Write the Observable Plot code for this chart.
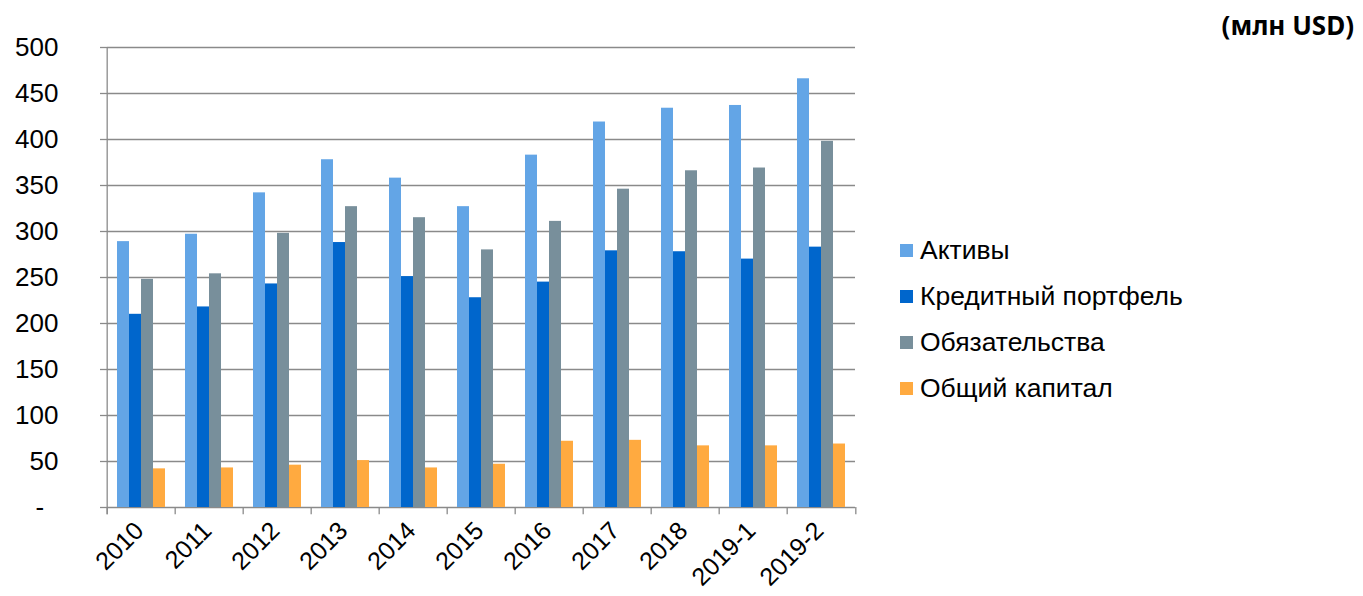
<!DOCTYPE html>
<html>
<head>
<meta charset="utf-8">
<script src="https://cdn.jsdelivr.net/npm/d3@7"></script>
<script src="https://cdn.jsdelivr.net/npm/@observablehq/plot@0.6"></script>
<style>
  html, body { margin: 0; padding: 0; background: #fff; }
  #wrap { position: relative; width: 1363px; height: 596px; overflow: hidden; font-family: "Liberation Sans", Arial, sans-serif; }
  #chart { position: absolute; left: 0; top: 0; }
  #title { position: absolute; right: 9px; top: 12px; font-family: "Noto Sans", sans-serif; font-weight: bold; font-size: 26px; line-height: 1; color: #000; }
  #legend { position: absolute; left: 900px; top: 228px; }
  .row { display: flex; align-items: center; height: 45.8px; font-size: 26.5px; color: #000; }
  .sw { width: 13px; height: 13px; margin-right: 7px; }
</style>
</head>
<body>
<div id="wrap">
  <div id="chart"></div>
  <div id="title">(млн USD)</div>
  <div id="legend"></div>
</div>
<script>
const years = ["2010","2011","2012","2013","2014","2015","2016","2017","2018","2019-1","2019-2"];
const series = ["Активы","Кредитный портфель","Обязательства","Общий капитал"];
const colors = ["#63a5e6","#0066cc","#788f9b","#ffaa40"];
const assets      = [289, 297, 342, 378, 358, 327, 383, 419, 434, 437, 466];
const loans       = [210, 218, 243, 288, 251, 228, 245, 279, 278, 270, 283];
const liabilities = [248, 254, 298, 327, 315, 280, 311, 346, 366, 369, 398];
const equity      = [42, 43, 46, 51, 43, 47, 72, 73, 67, 67, 69];
const yTicks = [0, 50, 100, 150, 200, 250, 300, 350, 400, 450, 500];

const valuesBySeries = [assets, loans, liabilities, equity];
const data = [];
years.forEach((yr, i) => series.forEach((s, k) => data.push({year: yr, series: s, value: valuesBySeries[k][i]})));

const W = 861, ML = 103, MR = 3;
const bw = (W - ML - MR) / years.length;
const gray = "#8a8a8a";

const chart = Plot.plot({
  width: W,
  height: 596,
  marginLeft: ML,
  marginRight: MR,
  marginTop: 47,
  marginBottom: 89,
  style: {fontFamily: "'Liberation Sans', Arial, sans-serif", color: "#000", background: "transparent"},
  fx: {domain: years, padding: 0},
  x: {domain: series, paddingInner: 0, paddingOuter: 0.78, axis: null},
  y: {domain: [0, 500]},
  color: {domain: series, range: colors},
  marks: [
    Plot.gridY(yTicks, {stroke: gray, strokeOpacity: 1, strokeWidth: 1.3}),
    Plot.barY(data, {fx: "year", x: "series", y: "value", fill: "series"}),
    Plot.ruleX([years[0]], {fx: d => d, x: null, y1: -8, y2: 500, dx: -bw / 2, stroke: gray, strokeWidth: 1.3}),
    Plot.ruleX(years, {fx: d => d, x: null, y1: 0, y2: -8, dx: -bw / 2, stroke: gray, strokeWidth: 1.3}),
    Plot.ruleX([years[years.length - 1]], {fx: d => d, x: null, y1: 0, y2: -8, dx: bw / 2, stroke: gray, strokeWidth: 1.3}),
    Plot.axisY({ticks: yTicks, tickFormat: d => d === 0 ? "-\u00a0\u00a0" : String(d), tickSize: 7, tickPadding: 42, fontSize: 26, stroke: gray, strokeWidth: 1.3, label: null}),
    Plot.axisFx({anchor: "bottom", tickRotate: -45, tickSize: 0, tickPadding: 19, dx: -2, fontSize: 25, label: null})
  ]
});
document.getElementById("chart").appendChild(chart);

const legend = document.getElementById("legend");
series.forEach((s, k) => {
  const row = document.createElement("div");
  row.className = "row";
  const sw = document.createElement("div");
  sw.className = "sw";
  sw.style.background = colors[k];
  const t = document.createElement("span");
  t.textContent = s;
  row.appendChild(sw);
  row.appendChild(t);
  legend.appendChild(row);
});
</script>
</body>
</html>
